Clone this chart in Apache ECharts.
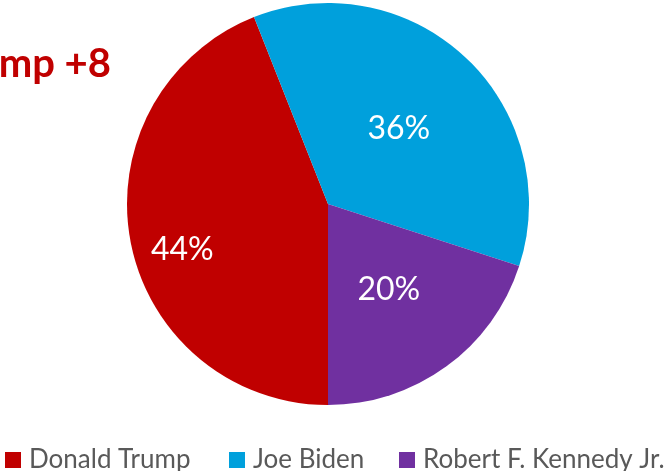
<!DOCTYPE html>
<html><head><meta charset="utf-8">
<script src="https://cdn.jsdelivr.net/npm/echarts@6/dist/echarts.min.js"></script>
<style>html,body{margin:0;padding:0;background:#fff}#c{width:664px;height:471px}</style>
</head><body><div id="c"></div>
<script>
const categories = ["Donald Trump", "Joe Biden", "Robert F. Kennedy Jr."];
const values = [44, 36, 20];
const colors = ["#C00000", "#00A0DC", "#7030A0"];
const titleText = "Trump +8";

const chart = echarts.init(document.getElementById('c'));
const legendLefts = [5, 229, 399];
const labelOffsets = [[-44, 26], [0, 0], [0, 2]];
chart.setOption({
  animation: false,
  color: colors,
  graphic: [{
    type: 'text', x: 111, y: 64,
    style: { text: titleText, font: 'bold 40px Lato, "Open Sans", sans-serif', fill: '#C00000', textAlign: 'right', textVerticalAlign: 'middle' }
  }],
  legend: categories.map((n, i) => ({
    data: [n], left: legendLefts[i], top: 446, padding: 0, icon: 'rect', itemWidth: 16, itemHeight: 16, itemGap: 6,
    textStyle: { fontSize: 26, color: '#595959', fontFamily: 'Lato, sans-serif', lineHeight: 28, padding: [0, 0, 0, 3] }
  })),
  series: [{
    type: 'pie', center: [328, 204], radius: 201, startAngle: -90, clockwise: true,
    avoidLabelOverlap: false,
    label: { show: true, position: 'inside', formatter: '{c}%', color: '#fff', fontSize: 32, fontFamily: 'Lato, "Open Sans", sans-serif' },
    labelLine: { show: false },
    emphasis: { disabled: true },
    data: categories.map((n, i) => ({ name: n, value: values[i], label: { offset: labelOffsets[i] } }))
  }]
});
</script></body></html>
